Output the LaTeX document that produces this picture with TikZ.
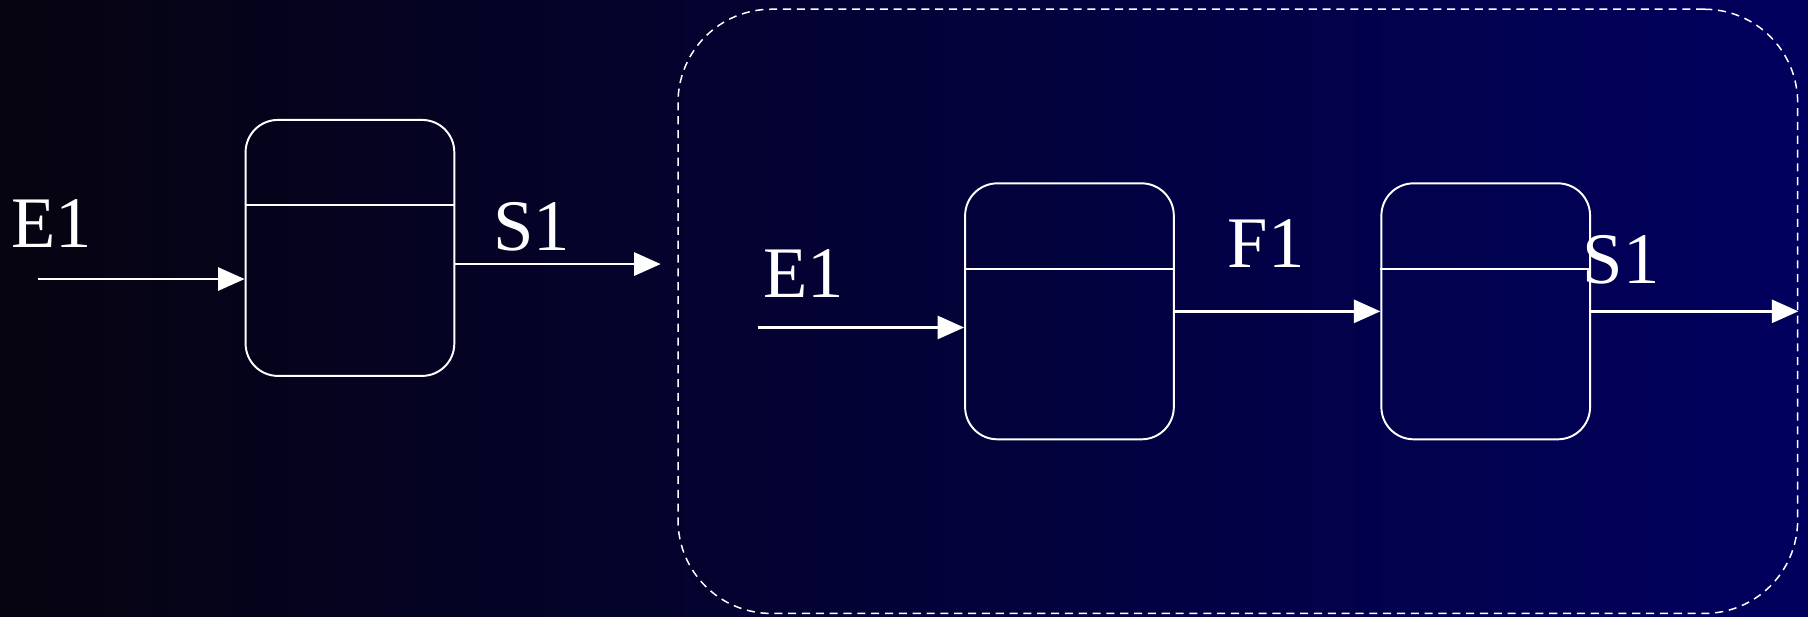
\documentclass[tikz,border=0pt]{standalone}
\usepackage{fontspec}
\setmainfont{Liberation Serif}
\usetikzlibrary{arrows.meta}

\definecolor{bgleft}{RGB}{6,4,16}
\definecolor{bgmid}{RGB}{0,0,72}
\definecolor{bgright}{RGB}{0,0,94}

\tikzset{
  statebox/.style={draw=white, line width=1.7pt, rounded corners=28pt,
    minimum width=181pt, minimum height=222pt, inner sep=0pt},
  divider/.style={draw=white, line width=1.5pt},
  flow/.style={draw=white, line width=2.2pt,
    -{Triangle[length=23pt,width=20pt]}, white},
  container/.style={draw=white, line width=1.3pt, rounded corners=81pt,
    dash pattern=on 7pt off 5pt},
  sig/.style={text=white, inner sep=0pt, anchor=base,
    font=\fontsize{63pt}{63pt}\selectfont}
}

\begin{document}
\begin{tikzpicture}[x=1pt, y=-1pt]
  % background with horizontal gradient
  \shade[left color=bgleft, middle color=bgmid, right color=bgright]
    (0,0) rectangle (1568,535);
  \useasboundingbox (0,0) rectangle (1568,535);

  % dashed enclosing region
  \node[container, minimum width=971pt, minimum height=524pt]
    (grp) at (1073.5,270) {};

  % states
  \node[statebox] (b1) at (303.5,215) {};
  \node[statebox] (b2) at (927.5,270) {};
  \node[statebox] (b3) at (1288.5,270) {};

  % compartment lines
  \draw[divider] (b1.west |- 0,178) -- (b1.east |- 0,178);
  \draw[divider] (b2.west |- 0,233) -- (b2.east |- 0,233);
  \draw[divider] (b3.west |- 0,233) -- (b3.east |- 0,233);

  % free ends of connectors
  \coordinate (e1src) at (33,242);
  \coordinate (s1dst) at (573,229);
  \coordinate (e2src) at (657,284);

  \draw[flow] (e1src) -- (e1src -| b1.west);
  \draw[flow] (b1.east |- s1dst) -- (s1dst);
  \draw[flow] (e2src) -- (e2src -| b2.west);
  \draw[flow] (b2.east) -- (b3.west);
  \draw[flow] (b3.east) -- (b3.east -| grp.east);

  % signal labels
  \node[sig] (lE1) at (45,215) {E1};
  \node[sig] (lS1) at (461,217) {S1};
  \node[sig] (lE2) at (697,258) {E1};
  \node[sig] (lF1) at (1098,232) {F1};
  \node[sig] (lS2) at (1406,246) {S1};
\end{tikzpicture}
\end{document}
